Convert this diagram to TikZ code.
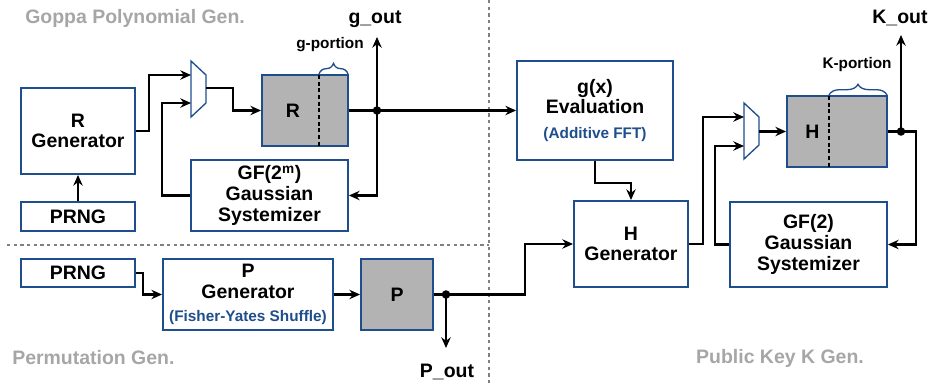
\documentclass[tikz,border=0pt]{standalone}
\usepackage{fontspec}
\setmainfont{Liberation Sans}
\definecolor{boxblue}{HTML}{1F4E8C}
\definecolor{regfill}{HTML}{B3B3B3}
\definecolor{titlegrey}{HTML}{A6A6A6}
\usetikzlibrary{arrows.meta, positioning, decorations.pathreplacing, calc}

\begin{document}
\begin{tikzpicture}[x = 0.75pt, y = -0.75pt,
  blk/.style = {rectangle, draw = boxblue, line width = 1.4pt, fill = white, align = center, inner sep = 0pt, font = \bfseries\fontsize{14.6}{15.5}\selectfont},
  reg/.style = {blk, fill = regfill},
  sz/.style 2 args = {minimum width = #1*0.75pt, minimum height = #2*0.75pt},
  wire/.style = {line width = 2.1pt, -{Stealth[length=8pt, width=7pt]}},
  mux/.style = {draw = boxblue, line width = 1pt, fill = white},
  sep/.style = {draw = gray, line width = 1pt, dash pattern = on 2.5pt off 2.5pt},
  cut/.style = {line width = 1.3pt, dash pattern = on 3pt off 2pt},
  brc/.style = {draw = boxblue, line width = 1pt, decorate, decoration = {brace, amplitude = 8pt}},
  lbl/.style = {font = \bfseries\fontsize{14.6}{16}\selectfont, inner sep = 0pt},
  small/.style = {font = \bfseries\fontsize{11.5}{13}\selectfont, inner sep = 0pt},
  title/.style = {font = \bfseries\fontsize{14.6}{16}\selectfont, text = titlegrey, inner sep = 0pt}]
\useasboundingbox (0,0) rectangle (932,383);

% section separators
\draw[sep] (489,0) -- (489,383);
\draw[sep] (7,245) -- (489,245);

% Goppa polynomial part
\node[blk, sz = {114}{86}] (rgen) at (78,131) {R\\Generator};
\node[blk, sz = {114}{29}] (prng1) at (78,216.5) {PRNG};
\node[blk, sz = {157}{71}] (gs1) at (269.5,195.5) {GF(2\textsuperscript{m})\\Gaussian\\Systemizer};
\node[reg, sz = {86}{71}] (rreg) at (305,110.5) {R\hspace*{18pt}};
\draw[mux] (191,61) -- (206,75) -- (206,103) -- (191,117) -- cycle;
\coordinate (m1a) at (191,75);
\coordinate (m1b) at (191,103);
\coordinate (m1o) at (206,88);

% public key part
\node[blk, sz = {156}{99}] (geval) at (595,110.5) {g(x)\\Evaluation\\[3pt]{\color{boxblue}\fontsize{11.5}{13}\selectfont(Additive FFT)}};
\node[blk, sz = {114}{86}] (hgen) at (631,244) {H\\Generator};
\node[blk, sz = {157}{85}] (gs2) at (808.5,244.5) {GF(2)\\Gaussian\\Systemizer};
\node[reg, sz = {100}{71}] (hreg) at (837,131.5) {\hspace*{-37pt}H};
\draw[mux] (744,103) -- (759,117) -- (759,145) -- (744,159) -- cycle;
\coordinate (m2a) at (744,117);
\coordinate (m2b) at (744,146);
\coordinate (m2o) at (759,131.5);

% permutation part
\node[blk, sz = {114}{28}] (prng2) at (78,273) {PRNG};
\node[blk, sz = {170}{71}] (pgen) at (248,294.5) {P\\Generator\\[2pt]{\color{boxblue}\fontsize{11.5}{13}\selectfont(Fisher-Yates Shuffle)}};
\node[reg, sz = {72}{71}] (preg) at (397,294.5) {P};

% portions of the registers
\draw[cut] (319,75) -- (319,146);
\draw[brc] (319,74) -- (348,74);
\node[small] (gpor) at (330,45) {g-portion};
\draw[cut] (829,96) -- (829,167);
\draw[brc] (829,95) -- (887,95);
\node[small] (kpor) at (857,65) {K-portion};

% outputs
\coordinate (j1) at (377,110.5);
\coordinate (j2) at (901,131.5);
\coordinate (j3) at (446,294.5);
\coordinate (gtip) at (377,37);
\coordinate (ktip) at (901,35);
\coordinate (ptip) at (446,348);
\node[lbl] (gout) at (375,19) {g\_out};
\node[lbl] (kout) at (900,18) {K\_out};
\node[lbl] (pout) at (447,372) {P\_out};

% wires
\draw[wire] (prng1) -- (rgen);
\draw[wire] (rgen.east) -- ++(13,0) |- (m1a);
\draw[wire] (gs1.west) -- ++(-28,0) |- (m1b);
\draw[wire] (m1o) -- ++(27,0) |- (rreg.west);
\draw[wire] (rreg.east) -- (geval.west);
\draw[wire] (j1) -- (gtip);
\draw[wire] (j1) |- (gs1.east);
\draw[wire] (geval.south) -- ++(0,22) -| (hgen.north);
\draw[wire] (hgen.east) -- ++(14,0) |- (m2a);
\draw[wire] (gs2.west) -- ++(-14,0) |- (m2b);
\draw[wire] (m2o) -- (hreg.west);
\draw[wire] (hreg.east) -- ++(28,0) |- (gs2.east);
\draw[wire] (j2) -- (ktip);
\draw[wire] (prng2.east) -- ++(7,0) |- (pgen.west);
\draw[wire] (pgen) -- (preg);
\draw[wire] (j3) -- (ptip);
\draw[wire] (preg.east) -- ++(91,0) |- (hgen.west);
\foreach \j in {j1, j2, j3}
  \fill (\j) circle (3.2pt);

% section titles
\node[title, anchor = west] (tgop) at (25,18) {Goppa Polynomial Gen.};
\node[title, anchor = west] (tper) at (12,358) {Permutation Gen.};
\node[title] (tpub) at (780,358) {Public Key K Gen.};
\end{tikzpicture}
\end{document}
